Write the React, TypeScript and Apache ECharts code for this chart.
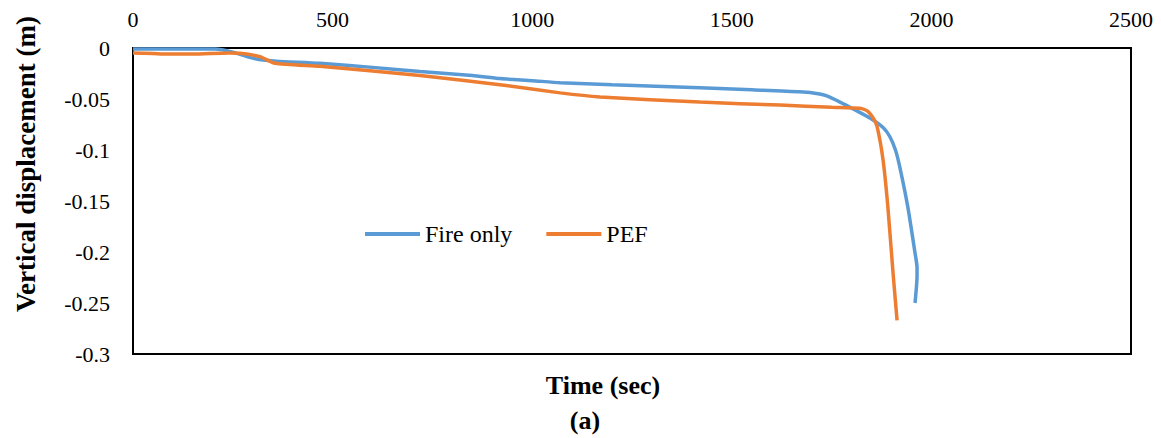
import React, { useEffect, useRef } from "react";
import * as echarts from "echarts";

const xTicks = [0, 500, 1000, 1500, 2000, 2500];
const yTicks = [0, -0.05, -0.1, -0.15, -0.2, -0.25, -0.3];

const fireTime = [0, 100, 205, 250, 290, 320, 360, 468, 600, 719, 850, 919, 1000, 1070, 1200, 1420, 1550, 1670, 1720, 1738, 1771, 1810, 1846, 1879, 1896, 1910, 1921, 1941, 1959, 1964, 1964, 1959];
const fireDisp = [-0.001, -0.001, -0.001, -0.004, -0.009, -0.0115, -0.013, -0.015, -0.019, -0.023, -0.027, -0.03, -0.032, -0.034, -0.036, -0.039, -0.041, -0.043, -0.045, -0.047, -0.053, -0.061, -0.0686, -0.078, -0.087, -0.1, -0.117, -0.156, -0.201, -0.215, -0.224, -0.25];

const pefTime = [0, 50, 85, 150, 240, 268, 318, 356, 468, 719, 919, 1070, 1170, 1420, 1621, 1750, 1821, 1832, 1842, 1854, 1864, 1879, 1891, 1904, 1914];
const pefDisp = [-0.005, -0.0055, -0.006, -0.006, -0.005, -0.0052, -0.0085, -0.015, -0.018, -0.027, -0.036, -0.044, -0.048, -0.053, -0.056, -0.058, -0.059, -0.0603, -0.0625, -0.0686, -0.077, -0.11, -0.156, -0.221, -0.267];

const seriesNames = ["Fire only", "PEF"];
const colors = ["#5B9BD5", "#ED7D31"];

const FONT = "Liberation Serif";

export default function App() {
  const ref = useRef<HTMLDivElement>(null);
  useEffect(() => {
    if (!ref.current) return;
    const chart = echarts.init(ref.current, null, { renderer: "svg" });
    const fireData = fireTime.map((t, i) => [t, fireDisp[i]]);
    const pefData = pefTime.map((t, i) => [t, pefDisp[i]]);
    chart.setOption({
      animation: false,
      backgroundColor: "#fff",
      textStyle: { fontFamily: FONT },
      grid: {
        left: 133,
        top: 48,
        width: 998,
        height: 306,
        show: true,
        borderColor: "#000",
        borderWidth: 2,
        backgroundColor: "transparent",
      },
      legend: {
        left: 360,
        top: 217,
        icon: "rect",
        itemWidth: 55,
        itemHeight: 4,
        itemGap: 34,
        data: seriesNames.map((n, i) => ({
          name: n,
          itemStyle: { color: colors[i] },
        })),
        textStyle: { fontFamily: FONT, fontSize: 24, color: "#000" },
      },
      xAxis: {
        type: "value",
        position: "top",
        min: xTicks[0],
        max: xTicks[xTicks.length - 1],
        interval: 500,
        axisLine: { show: false },
        axisTick: { show: false },
        splitLine: { show: false },
        axisLabel: {
          margin: 18,
          fontFamily: FONT,
          fontSize: 22,
          color: "#000",
          showMaxLabel: true,
          showMinLabel: true,
          formatter: (v: number) => String(v),
        },
      },
      yAxis: {
        type: "value",
        min: yTicks[yTicks.length - 1],
        max: yTicks[0],
        interval: 0.05,
        axisLine: { show: false },
        axisTick: { show: false },
        splitLine: { show: false },
        axisLabel: {
          margin: 23,
          fontFamily: FONT,
          fontSize: 22,
          color: "#000",
          formatter: (v: number) => String(Math.round(v * 100) / 100),
        },
      },
      graphic: [
        {
          type: "text",
          x: 26,
          y: 164,
          rotation: Math.PI / 2,
          style: {
            text: "Vertical displacement (m)",
            font: `bold 27px ${FONT}`,
            fill: "#000",
            textAlign: "center",
            textVerticalAlign: "middle",
          },
        },
        {
          type: "text",
          x: 603,
          y: 385,
          style: {
            text: "Time (sec)",
            font: `bold 26px ${FONT}`,
            fill: "#000",
            textAlign: "center",
            textVerticalAlign: "middle",
          },
        },
        {
          type: "text",
          x: 585,
          y: 420,
          style: {
            text: "(a)",
            font: `bold 26px ${FONT}`,
            fill: "#000",
            textAlign: "center",
            textVerticalAlign: "middle",
          },
        },
      ],
      series: [
        {
          name: seriesNames[0],
          type: "line",
          data: fireData,
          showSymbol: false,
          symbol: "none",
          smooth: 0.2,
          lineStyle: { color: colors[0], width: 3.5 },
          itemStyle: { color: colors[0] },
        },
        {
          name: seriesNames[1],
          type: "line",
          data: pefData,
          showSymbol: false,
          symbol: "none",
          smooth: 0.2,
          lineStyle: { color: colors[1], width: 3.5 },
          itemStyle: { color: colors[1] },
        },
      ],
    });
    return () => chart.dispose();
  }, []);
  return (
    <div
      ref={ref}
      style={{ position: "fixed", left: 0, top: 0, width: 1161, height: 438, background: "#fff" }}
    />
  );
}
